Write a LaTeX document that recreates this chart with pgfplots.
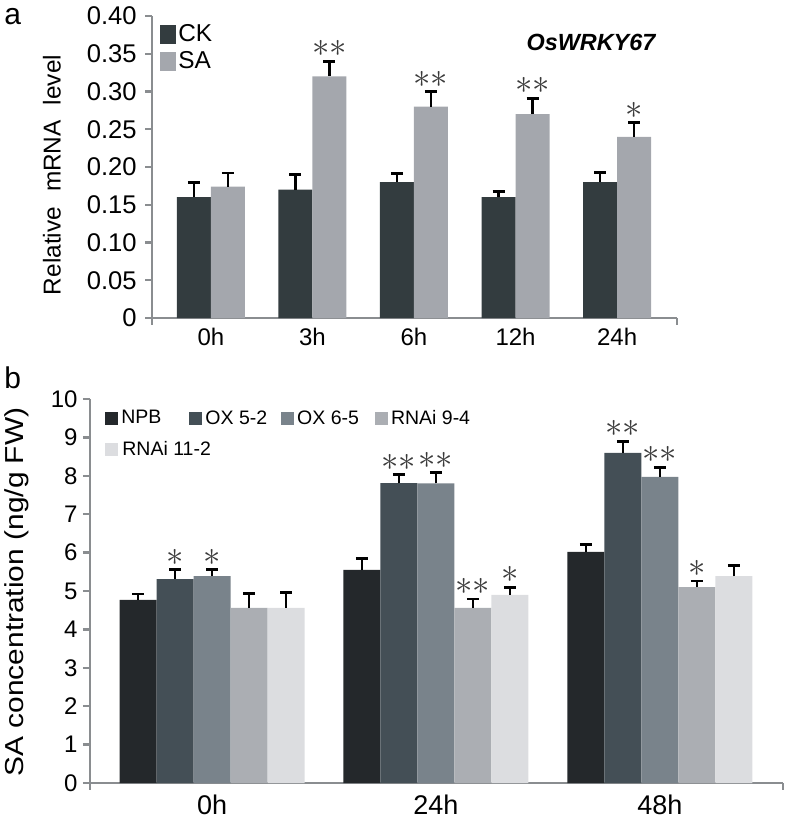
\documentclass[border=0pt]{standalone}
\usepackage{fontspec}
\setmainfont{Liberation Sans}
\newfontfamily\labfont[FakeStretch=1.15]{Liberation Sans}
\usepackage{pgfplots}
\pgfplotsset{compat=1.18}
\definecolor{axisgray}{HTML}{8A8D90}
\definecolor{ckc}{HTML}{333C3F}
\definecolor{sac}{HTML}{A4A7AD}
\definecolor{npbc}{HTML}{24282B}
\definecolor{oxac}{HTML}{444F56}
\definecolor{oxbc}{HTML}{79838B}
\definecolor{rnaac}{HTML}{ABAEB3}
\definecolor{rnabc}{HTML}{DCDDE0}
\definecolor{starc}{HTML}{3A3A3A}
\def\stara{$\ast$}
\def\starb{$\ast\ast$}
\def\starn{}
\pgfplotsset{
  base/.style={
    scale only axis, clip=false,
    axis x line=bottom, axis y line=left,
    axis line style={-, draw=axisgray, line width=1.3pt},
    tick align=outside, major tick length=3.5pt,
    ytick style={draw=axisgray, line width=1.2pt},
    xtick style={draw=none},
    /pgf/number format/assume math mode=true,
    ymin=0,
    point meta=explicit symbolic,
    nodes near coords={\csname star\pgfplotspointmeta\endcsname},
    error bars/y dir=plus, error bars/y explicit,
    error bars/error bar style={black, line width=1.3pt},
    error bars/error mark options={rotate=90, black, line width=1.4pt, mark size=3pt},
  },
}
\begin{document}
\begin{tikzpicture}
\path[use as bounding box] (0,0) rectangle (393.5pt,-410pt);
% ---------------- panel a
\begin{axis}[base,
  at={(76pt,-159pt)}, anchor=south west,
  width=262.5pt, height=151pt,
  xmin=-0.58, xmax=4.59, ymax=0.40,
  ybar=0pt, bar width=17pt,
  ytick={0,0.05,0.10,0.15,0.20,0.25,0.30,0.35,0.40},
  yticklabels={0,0.05,0.10,0.15,0.20,0.25,0.30,0.35,0.40},
  yticklabel style={font=\fontsize{12.8}{14}\selectfont, inner sep=0pt, xshift=-4pt},
  xtick={0,1,2,3,4}, xticklabels={0h,3h,6h,12h,24h},
  xticklabel style={font=\fontsize{12}{14}\selectfont, inner sep=0pt, yshift=-1.5pt},
  nodes near coords style={anchor=south, inner sep=0pt, text=starc, font=\fontsize{17}{18}\selectfont, yshift=2pt, yshift=\errpt pt},
  legend style={at={(rel axis cs:0.015,0.972)}, anchor=north west, draw=none, fill=none,
    inner sep=0pt, row sep=3.25pt, nodes={inner sep=0pt}, font=\fontsize{12.2}{14}\selectfont,
    /tikz/every odd column/.append style={column sep=1pt}},
  legend cell align=left,
  legend image code/.code={\fill[#1] (0pt,-4.75pt) rectangle (8pt,4.75pt);},
]
\addplot[fill=ckc, draw=none, visualization depends on={377.5*\thisrow{e} \as \errpt}]
  table[x=x, y=y, y error=e, meta=s] {
x y e s
0 0.160 0.020 n
1 0.170 0.020 n
2 0.180 0.011 n
3 0.160 0.008 n
4 0.180 0.013 n
};
\addplot[fill=sac, draw=none, visualization depends on={377.5*\thisrow{e} \as \errpt}]
  table[x=x, y=y, y error=e, meta=s] {
x y e s
0 0.174 0.018 n
1 0.320 0.020 b
2 0.280 0.020 b
3 0.270 0.021 b
4 0.240 0.019 a
};
\legend{CK,SA}
\draw[axisgray, line width=1.2pt] (rel axis cs:0,0) -- ([yshift=-3.5pt]rel axis cs:0,0);
\draw[axisgray, line width=1.2pt] (rel axis cs:1,0) -- ([yshift=-3.5pt]rel axis cs:1,0);
\end{axis}
% ---------------- panel b
\begin{axis}[base,
  at={(45pt,-391.5pt)}, anchor=south west,
  width=346.5pt, height=192pt,
  xmin=-0.545, xmax=2.55, ymax=10,
  ybar=0pt, bar width=18.5pt,
  ytick={0,1,2,3,4,5,6,7,8,9,10},
  yticklabel style={font=\fontsize{12}{14}\selectfont, inner sep=0pt, xshift=-2.5pt},
  xtick={0,1,2}, xticklabels={0h,24h,48h},
  xticklabel style={font=\fontsize{13.5}{15}\selectfont, inner sep=0pt, yshift=-2.5pt},
  nodes near coords style={anchor=south, inner sep=0pt, text=starc, font=\fontsize{17}{18}\selectfont, yshift=2pt, yshift=\errpt pt},
  legend columns=4,
  legend style={at={(rel axis cs:0.0216,0.972)}, anchor=north west, draw=none, fill=none,
    inner sep=0pt, row sep=7pt, nodes={inner sep=0pt}, font=\fontsize{9.75}{11}\selectfont,
    /tikz/every odd column/.append style={column sep=1.5pt},
    /tikz/column 2/.style={column sep=14pt},
    /tikz/column 4/.style={column sep=7pt},
    /tikz/column 6/.style={column sep=8pt}},
  legend cell align=left,
  legend image code/.code={\fill[#1] (0pt,-3.25pt) rectangle (6.5pt,3.25pt);},
]
\addplot[fill=npbc, draw=none, visualization depends on={19.2*\thisrow{e} \as \errpt}]
  table[x=x, y=y, y error=e, meta=s] {
x y e s
0 4.77 0.15 n
1 5.55 0.30 n
2 6.02 0.20 n
};
\addplot[fill=oxac, draw=none, visualization depends on={19.2*\thisrow{e} \as \errpt}]
  table[x=x, y=y, y error=e, meta=s] {
x y e s
0 5.31 0.25 a
1 7.81 0.22 b
2 8.60 0.30 b
};
\addplot[fill=oxbc, draw=none, visualization depends on={19.2*\thisrow{e} \as \errpt}]
  table[x=x, y=y, y error=e, meta=s] {
x y e s
0 5.39 0.17 a
1 7.80 0.28 b
2 7.97 0.25 b
};
\addplot[fill=rnaac, draw=none, visualization depends on={19.2*\thisrow{e} \as \errpt}]
  table[x=x, y=y, y error=e, meta=s] {
x y e s
0 4.56 0.38 n
1 4.56 0.23 b
2 5.10 0.16 a
};
\addplot[fill=rnabc, draw=none, visualization depends on={19.2*\thisrow{e} \as \errpt}]
  table[x=x, y=y, y error=e, meta=s] {
x y e s
0 4.56 0.40 n
1 4.90 0.20 a
2 5.39 0.28 n
};
\legend{NPB,OX 5-2,OX 6-5,RNAi 9-4,\rlap{RNAi 11-2}}
\draw[axisgray, line width=1.2pt] (rel axis cs:0,0) -- ([yshift=-3.5pt]rel axis cs:0,0);
\draw[axisgray, line width=1.2pt] (rel axis cs:1,0) -- ([yshift=-3.5pt]rel axis cs:1,0);
\end{axis}
% ---------------- labels
\node[anchor=base west, inner sep=0pt, font=\fontsize{15}{17}\selectfont] at (2pt,-12pt) {a};
\node[anchor=base west, inner sep=0pt, font=\fontsize{15}{17}\selectfont] at (2pt,-194pt) {b};
\node[font=\fontsize{11.7}{14}\selectfont\bfseries\itshape] at (295.5pt,-21pt) {OsWRKY67};
\node[rotate=90, inner sep=0pt, font=\fontsize{12.2}{14}\selectfont] at (26pt,-87.5pt) {Relative\hspace{7.5pt}mRNA\hspace{7.5pt}level};
\node[rotate=90, inner sep=0pt, font=\labfont\fontsize{13}{15}\selectfont] at (8.5pt,-296pt) {SA concentration (ng/g FW)};
\end{tikzpicture}
\end{document}
